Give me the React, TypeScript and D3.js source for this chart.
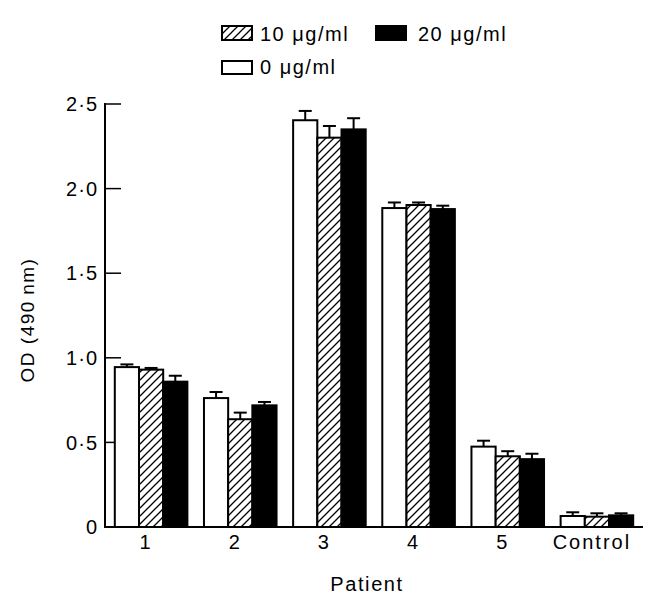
import React from "react";
import * as d3 from "d3";

const categories = ["1", "2", "3", "4", "5", "Control"];
const seriesNames = ["0 μg/ml", "10 μg/ml", "20 μg/ml"];
const values0 = [0.945, 0.762, 2.404, 1.885, 0.475, 0.065];
const values10 = [0.93, 0.637, 2.301, 1.903, 0.418, 0.061];
const values20 = [0.859, 0.719, 2.35, 1.879, 0.401, 0.069];
const err0 = [0.016, 0.036, 0.055, 0.033, 0.035, 0.022];
const err10 = [0.01, 0.039, 0.069, 0.015, 0.03, 0.02];
const err20 = [0.035, 0.02, 0.066, 0.02, 0.032, 0.012];
const yTicks = [0, 0.5, 1.0, 1.5, 2.0, 2.5];
const yTickLabels = ["0", "0·5", "1·0", "1·5", "2·0", "2·5"];

const W = 664;
const H = 606;
const FONT = "'Liberation Sans', Arial, Helvetica, sans-serif";

export default function App() {
  const x0 = d3
    .scaleBand<string>()
    .domain(categories)
    .range([105, 643])
    .paddingInner(0.186)
    .paddingOuter(0.11);
  const x1 = d3
    .scaleBand<string>()
    .domain(seriesNames)
    .range([0, x0.bandwidth()]);
  const y = d3.scaleLinear().domain([0, 2.5]).range([527, 104]);

  const allValues = [values0, values10, values20];
  const allErr = [err0, err10, err20];
  const fills = ["#fff", "url(#hatch)", "#000"];

  const bars: React.ReactNode[] = [];
  const errs: React.ReactNode[] = [];
  categories.forEach((c, ci) => {
    seriesNames.forEach((s, si) => {
      const v = allValues[si][ci];
      const e = allErr[si][ci];
      const bx = (x0(c) ?? 0) + (x1(s) ?? 0);
      const bw = x1.bandwidth();
      bars.push(
        <rect
          key={`b-${ci}-${si}`}
          x={bx}
          y={y(v)}
          width={bw}
          height={y(0) - y(v)}
          fill={fills[si]}
          stroke="#000"
          strokeWidth={2}
        />
      );
      const cx = bx + bw / 2;
      errs.push(
        <g key={`e-${ci}-${si}`} stroke="#000" strokeWidth={2}>
          <line x1={cx} x2={cx} y1={y(v)} y2={y(v + e)} />
          <line x1={cx - 6.5} x2={cx + 6.5} y1={y(v + e)} y2={y(v + e)} />
        </g>
      );
    });
  });

  const textStyle: React.CSSProperties = {
    fontFamily: FONT,
    fontSize: 20,
    letterSpacing: 1.5,
  };

  return (
    <svg
      width={W}
      height={H}
      style={{ position: "absolute", left: 0, top: 0, background: "#fff" }}
    >
      <defs>
        <pattern
          id="hatch"
          patternUnits="userSpaceOnUse"
          width={8}
          height={8}
        >
          <rect width={8} height={8} fill="#fff" />
          <path
            d="M-2,2 L2,-2 M0,8 L8,0 M6,10 L10,6"
            stroke="#000"
            strokeWidth={1.3}
          />
        </pattern>
      </defs>
      <rect width={W} height={H} fill="#fff" />

      {yTicks.map((t, i) => (
        <g key={`yt-${i}`}>
          {t > 0 && (
            <line
              x1={105}
              x2={121}
              y1={y(t)}
              y2={y(t)}
              stroke="#000"
              strokeWidth={1.5}
            />
          )}
          <text
            x={98}
            y={y(t)}
            dy="0.36em"
            textAnchor="end"
            style={{ ...textStyle, letterSpacing: 1 }}
          >
            {yTickLabels[i]}
          </text>
        </g>
      ))}

      {bars}
      {errs}

      <line x1={105} x2={105} y1={y(2.5) - 1} y2={y(0) + 1} stroke="#000" strokeWidth={2} />
      <line x1={104} x2={643} y1={y(0)} y2={y(0)} stroke="#000" strokeWidth={2} />

      {categories.map((c) => (
        <text
          key={`xl-${c}`}
          x={(x0(c) ?? 0) + x0.bandwidth() / 2 - 5}
          y={549}
          textAnchor="middle"
          style={{ ...textStyle, letterSpacing: 2 }}
        >
          {c}
        </text>
      ))}

      <text x={367} y={591} textAnchor="middle" style={{ ...textStyle, letterSpacing: 1.6 }}>
        Patient
      </text>

      <text
        transform={`translate(34,320) rotate(-90)`}
        textAnchor="middle"
        style={{ ...textStyle, fontSize: 19, letterSpacing: 1.5 }}
      >
        OD (490{"\u2009"}nm)
      </text>

      <rect x={222} y={26} width={30} height={14} fill="url(#hatch)" stroke="#000" strokeWidth={2} />
      <text x={260} y={41} style={textStyle}>
        {seriesNames[1]}
      </text>
      <rect x={376} y={26} width={30} height={14} fill="#000" stroke="#000" strokeWidth={2} />
      <text x={418} y={41} style={textStyle}>
        {seriesNames[2]}
      </text>
      <rect x={222} y={61} width={30} height={13} fill="#fff" stroke="#000" strokeWidth={2} />
      <text x={260} y={74} style={textStyle}>
        {seriesNames[0]}
      </text>
    </svg>
  );
}
